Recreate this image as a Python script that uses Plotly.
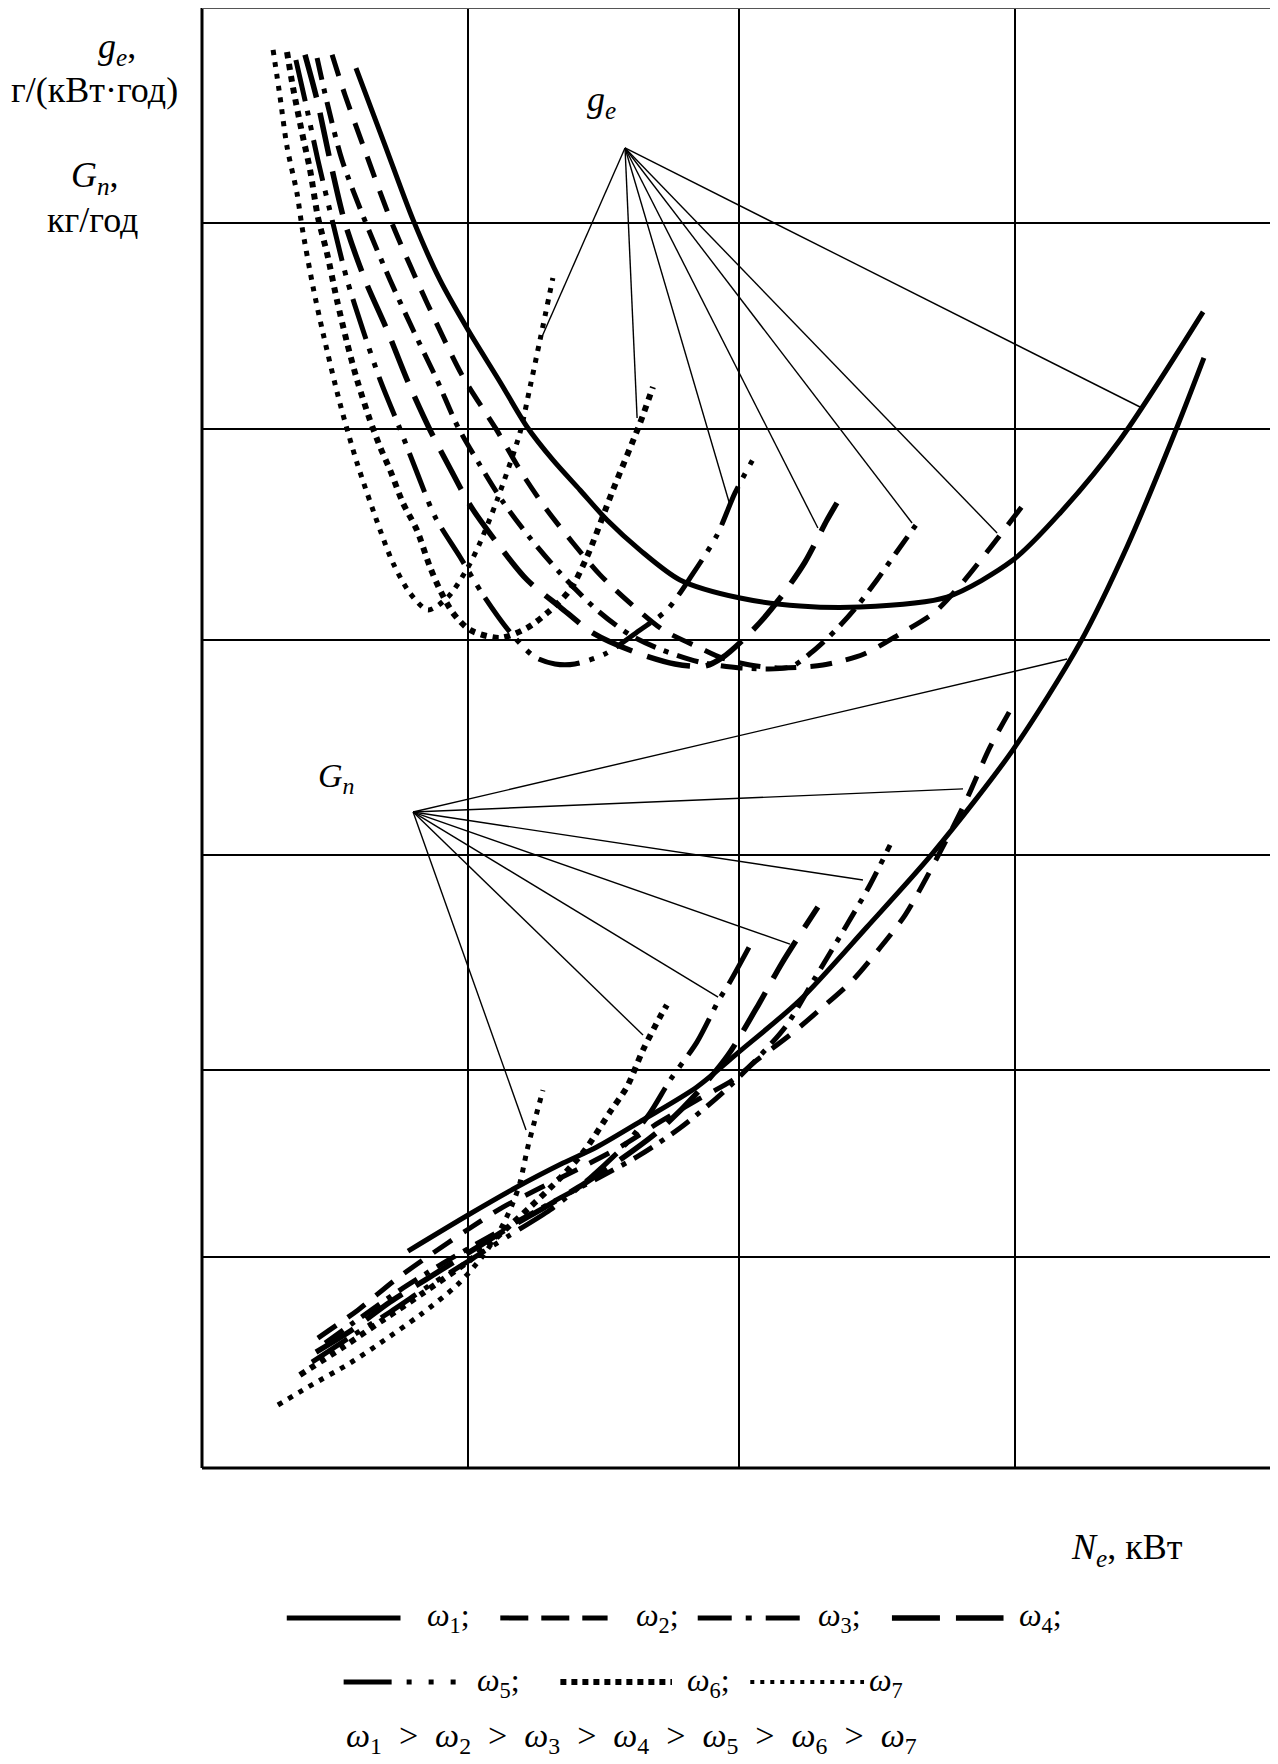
import plotly.graph_objects as go

# grid positions in chart units (one cell ~ one unit)
grid_x = [0.99, 2.0, 3.03]
grid_y = [1.01, 1.91, 2.94, 3.97, 4.98, 5.97]

# g_e curves, omega1..omega7
ge1_x = [0.574, 0.682, 0.787, 0.887, 0.992, 1.111, 1.212, 1.308, 1.409, 1.510, 1.633, 1.782, 2.006, 2.229, 2.453, 2.777, 3.023, 3.199, 3.422, 3.732]
ge1_y = [6.712, 6.343, 5.984, 5.696, 5.456, 5.207, 4.991, 4.833, 4.689, 4.545, 4.401, 4.258, 4.171, 4.133, 4.128, 4.176, 4.353, 4.579, 4.929, 5.543]
ge2_x = [0.485, 0.533, 0.600, 0.708, 0.839, 0.973, 1.096, 1.197, 1.286, 1.383, 1.484, 1.596, 1.719, 1.856, 1.938, 2.043, 2.155, 2.315, 2.468, 2.602, 2.732, 2.837, 2.938, 3.064]
ge2_y = [6.776, 6.583, 6.343, 5.969, 5.586, 5.231, 4.982, 4.761, 4.593, 4.435, 4.282, 4.147, 4.018, 3.932, 3.884, 3.850, 3.836, 3.850, 3.903, 3.999, 4.104, 4.248, 4.411, 4.622]
ge3_x = [0.429, 0.466, 0.522, 0.611, 0.701, 0.787, 0.876, 0.954, 1.036, 1.122, 1.223, 1.335, 1.472, 1.596, 1.715, 1.856, 2.006, 2.192, 2.274, 2.363, 2.446, 2.516, 2.587, 2.680]
ge3_y = [6.760, 6.549, 6.271, 5.969, 5.696, 5.456, 5.217, 4.991, 4.809, 4.632, 4.459, 4.291, 4.114, 3.994, 3.922, 3.864, 3.836, 3.840, 3.912, 4.018, 4.138, 4.258, 4.387, 4.555]
ge4_x = [0.384, 0.429, 0.477, 0.533, 0.608, 0.690, 0.768, 0.850, 0.932, 0.999, 1.100, 1.212, 1.335, 1.458, 1.622, 1.763, 1.875, 1.938, 2.054, 2.158, 2.248, 2.330, 2.367]
ge4_y = [6.776, 6.559, 6.271, 5.969, 5.696, 5.456, 5.207, 4.977, 4.775, 4.617, 4.435, 4.258, 4.128, 4.003, 3.908, 3.855, 3.845, 3.884, 4.018, 4.176, 4.344, 4.545, 4.627]
ge5_x = [0.350, 0.388, 0.432, 0.488, 0.541, 0.600, 0.664, 0.738, 0.805, 0.869, 0.962, 1.048, 1.148, 1.241, 1.316, 1.390, 1.502, 1.633, 1.733, 1.827, 1.920, 1.987, 2.069]
ge5_y = [6.751, 6.535, 6.271, 5.969, 5.696, 5.456, 5.217, 4.982, 4.761, 4.560, 4.368, 4.186, 4.008, 3.888, 3.855, 3.855, 3.903, 4.018, 4.114, 4.282, 4.473, 4.675, 4.871]
ge6_x = [0.317, 0.339, 0.373, 0.403, 0.432, 0.466, 0.503, 0.541, 0.578, 0.626, 0.664, 0.701, 0.749, 0.801, 0.850, 0.887, 0.936, 0.999, 1.111, 1.212, 1.286, 1.372, 1.435, 1.532, 1.633, 1.681]
ge6_y = [6.789, 6.621, 6.401, 6.223, 5.998, 5.825, 5.600, 5.394, 5.217, 5.025, 4.895, 4.785, 4.627, 4.497, 4.320, 4.210, 4.099, 4.018, 3.980, 4.028, 4.099, 4.210, 4.368, 4.689, 5.010, 5.183]
ge7_x = [0.265, 0.291, 0.317, 0.354, 0.373, 0.414, 0.451, 0.514, 0.578, 0.664, 0.712, 0.775, 0.842, 0.917, 0.992, 1.036, 1.100, 1.185, 1.223, 1.260, 1.308]
ge7_y = [6.799, 6.573, 6.334, 6.113, 5.950, 5.662, 5.442, 5.106, 4.819, 4.497, 4.339, 4.195, 4.114, 4.176, 4.320, 4.435, 4.641, 4.962, 5.183, 5.408, 5.705]

# G_n curves, omega1..omega7
gn1_x = [0.768, 0.992, 1.174, 1.346, 1.472, 1.644, 1.845, 2.002, 2.229, 2.479, 2.725, 3.023, 3.273, 3.448, 3.635, 3.735]
gn1_y = [1.040, 1.213, 1.347, 1.462, 1.539, 1.669, 1.827, 1.995, 2.244, 2.594, 2.949, 3.443, 3.956, 4.416, 4.991, 5.322]
gn2_x = [0.432, 0.582, 0.719, 0.850, 0.988, 1.122, 1.260, 1.409, 1.558, 1.707, 1.845, 1.979, 2.069, 2.192, 2.311, 2.427, 2.527, 2.621, 2.740, 2.844, 2.938, 3.020]
gn2_y = [0.623, 0.758, 0.901, 1.021, 1.141, 1.251, 1.342, 1.438, 1.539, 1.659, 1.764, 1.860, 1.956, 2.076, 2.206, 2.340, 2.493, 2.651, 2.925, 3.188, 3.457, 3.649]
gn3_x = [0.459, 0.589, 0.738, 0.887, 1.036, 1.185, 1.335, 1.484, 1.633, 1.782, 1.931, 2.043, 2.177, 2.285, 2.408, 2.490, 2.565]
gn3_y = [0.599, 0.719, 0.853, 0.973, 1.084, 1.189, 1.295, 1.395, 1.501, 1.630, 1.788, 1.927, 2.119, 2.349, 2.613, 2.795, 2.987]
gn4_x = [0.425, 0.559, 0.701, 0.831, 0.980, 1.130, 1.279, 1.428, 1.558, 1.707, 1.838, 1.961, 2.080, 2.162, 2.296]
gn4_y = [0.556, 0.662, 0.796, 0.901, 1.021, 1.141, 1.251, 1.366, 1.477, 1.621, 1.788, 1.980, 2.234, 2.421, 2.690]
gn5_x = [0.410, 0.559, 0.701, 0.850, 0.999, 1.148, 1.297, 1.446, 1.577, 1.670, 1.745, 1.845, 1.927, 1.968, 2.050]
gn5_y = [0.508, 0.633, 0.748, 0.877, 0.997, 1.117, 1.237, 1.390, 1.549, 1.702, 1.860, 2.042, 2.244, 2.330, 2.522]
gn6_x = [0.365, 0.526, 0.675, 0.824, 0.999, 1.100, 1.223, 1.335, 1.428, 1.521, 1.584, 1.644, 1.707, 1.733]
gn6_y = [0.446, 0.580, 0.710, 0.839, 0.997, 1.108, 1.251, 1.390, 1.525, 1.707, 1.827, 2.004, 2.162, 2.220]
gn7_x = [0.283, 0.395, 0.552, 0.664, 0.813, 0.951, 1.044, 1.111, 1.156, 1.185, 1.212, 1.241, 1.271]
gn7_y = [0.302, 0.388, 0.503, 0.599, 0.734, 0.877, 1.012, 1.141, 1.261, 1.366, 1.525, 1.669, 1.812]

# leader lines from the two labels
ge_hub = (1.577, 6.329)
ge_tip_x = [1.267, 1.622, 1.968, 2.296, 2.647, 2.964, 3.497]
ge_tip_y = [5.423, 5.034, 4.617, 4.507, 4.531, 4.483, 5.087]
gn_hub = (0.787, 3.145)
gn_tip_x = [1.208, 1.644, 1.924, 2.192, 2.464, 2.837, 3.225]
gn_tip_y = [1.621, 2.076, 2.258, 2.512, 2.819, 3.256, 3.879]

# line styles for omega1..omega7
dashes = ["solid", "22px,14px", "22px,9px,5px,9px", "44px,16px",
          "42px,10px,5px,10px,5px,10px", "6px,6px", "5px,7px"]
widths = [5, 5, 5, 5.5, 5, 6, 5]

FONT = "Liberation Serif, Times New Roman, serif"

ge_curves = [(ge1_x, ge1_y), (ge2_x, ge2_y), (ge3_x, ge3_y), (ge4_x, ge4_y),
             (ge5_x, ge5_y), (ge6_x, ge6_y), (ge7_x, ge7_y)]
gn_curves = [(gn1_x, gn1_y), (gn2_x, gn2_y), (gn3_x, gn3_y), (gn4_x, gn4_y),
             (gn5_x, gn5_y), (gn6_x, gn6_y), (gn7_x, gn7_y)]

fig = go.Figure()

for i, (xs, ys) in enumerate(ge_curves + gn_curves):
    k = i % 7
    fig.add_trace(go.Scatter(x=xs, y=ys, mode="lines",
                             line=dict(color="black", width=widths[k], dash=dashes[k],
                                       shape="spline", smoothing=0.8),
                             showlegend=False, hoverinfo="skip"))

for hub, tx, ty in [(ge_hub, ge_tip_x, ge_tip_y), (gn_hub, gn_tip_x, gn_tip_y)]:
    lx, ly = [], []
    for x, y in zip(tx, ty):
        lx += [hub[0], x, None]
        ly += [hub[1], y, None]
    fig.add_trace(go.Scatter(x=lx, y=ly, mode="lines",
                             line=dict(color="black", width=1.4),
                             showlegend=False, hoverinfo="skip"))

# frame
frame = [
    dict(x0=0, x1=0, y0=0, y1=1, width=3, color="black"),
    dict(x0=0, x1=1, y0=0, y1=0, width=3, color="black"),
    dict(x0=0, x1=1, y0=1, y1=1, width=2, color="#555"),
    dict(x0=1, x1=1, y0=0, y1=1, width=2, color="#555"),
]
shapes = [dict(type="line", xref="paper", yref="paper", x0=f["x0"], x1=f["x1"],
               y0=f["y0"], y1=f["y1"], line=dict(color=f["color"], width=f["width"]))
          for f in frame]

# legend samples (paper coordinates, below the plot)
row1, row2, row3 = -0.1027, -0.1466, -0.1849
legend_samples = [
    (0.079, 0.185, row1, "solid", 5),
    (0.278, 0.378, row1, "28px,13px", 5),
    (0.462, 0.568, row1, "34px,14px,6px,14px", 5),
    (0.643, 0.747, row1, "48px,16px", 5.5),
    (0.132, 0.242, row2, "48px,15px,5px,17px,5px,17px,5px,40px", 5),
    (0.334, 0.438, row2, "6px,5px", 6),
    (0.511, 0.617, row2, "4px,6px", 4),
]
for x0, x1, y, d, w in legend_samples:
    shapes.append(dict(type="line", xref="paper", yref="paper", x0=x0, x1=x1, y0=y, y1=y,
                       line=dict(color="black", width=w, dash=d)))


def om(n):
    return "<i>ω</i><sub>%d</sub>" % n


gap = "&nbsp;&nbsp;>&nbsp;&nbsp;"
annotations = [
    dict(text="<i>g</i><sub><i>e</i></sub>,", x=-0.079, y=0.972, size=36),
    dict(text="г/(кВт·год)", x=-0.100, y=0.944, size=36),
    dict(text="<i>G</i><sub><i>n</i></sub>,", x=-0.100, y=0.884, size=36),
    dict(text="кг/год", x=-0.102, y=0.855, size=36),
    dict(text="<i>N</i><sub><i>e</i></sub>, кВт", x=0.862, y=-0.056, size=36),
    dict(text=om(1) + ";", x=0.208, y=row1, xanchor="left"),
    dict(text=om(2) + ";", x=0.403, y=row1, xanchor="left"),
    dict(text=om(3) + ";", x=0.572, y=row1, xanchor="left"),
    dict(text=om(4) + ";", x=0.760, y=row1, xanchor="left"),
    dict(text=om(5) + ";", x=0.254, y=row2, xanchor="left"),
    dict(text=om(6) + ";", x=0.450, y=row2, xanchor="left"),
    dict(text=om(7), x=0.620, y=row2, xanchor="left"),
    dict(text=gap.join(om(n) for n in range(1, 8)), x=0.132, y=row3, xanchor="left", size=34),
]
ann = []
for a in annotations:
    size = a.pop("size", 32)
    a.setdefault("xanchor", "center")
    ann.append(dict(xref="paper", yref="paper", showarrow=False, yanchor="middle",
                    font=dict(family=FONT, size=size, color="black"), **a))

# labels inside the plot
ann.append(dict(x=1.49, y=6.55, xref="x", yref="y", showarrow=False,
                text="<i>g</i><sub><i>e</i></sub>", font=dict(family=FONT, size=36, color="black")))
ann.append(dict(x=0.50, y=3.31, xref="x", yref="y", showarrow=False,
                text="<i>G</i><sub><i>n</i></sub>", font=dict(family=FONT, size=34, color="black")))

# page body has an 8px margin: shift the figure so the plot frame lands at 202..1275, 8..1468
fig.update_layout(
    width=1270, height=1756,
    margin=dict(l=194, r=3, t=0, b=296),
    paper_bgcolor="white", plot_bgcolor="white",
    xaxis=dict(range=[0, 4.0], tickvals=grid_x, showticklabels=False, ticks="",
               showgrid=True, gridcolor="black", gridwidth=1.6, zeroline=False, showline=False),
    yaxis=dict(range=[0, 7.0], tickvals=grid_y, showticklabels=False, ticks="",
               showgrid=True, gridcolor="black", gridwidth=1.6, zeroline=False, showline=False),
    shapes=shapes,
    annotations=ann,
)

fig.write_html("out.html")
